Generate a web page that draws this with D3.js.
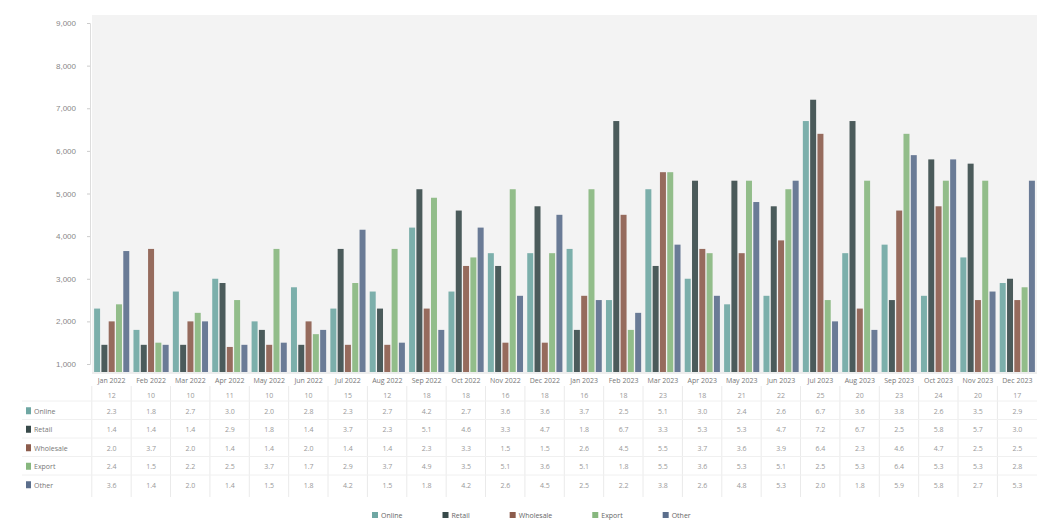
<!DOCTYPE html>
<html><head><meta charset="utf-8">
<script src="https://cdn.jsdelivr.net/npm/d3@7"></script>
<style>
html,body{margin:0;padding:0;background:#fff;}
svg{display:block;font-family:"Open Sans","Liberation Sans",sans-serif;}
</style></head>
<body>
<svg id="c" width="1043" height="523"></svg>
<script>
const categories = ["Jan 2022","Feb 2022","Mar 2022","Apr 2022","May 2022","Jun 2022","Jul 2022","Aug 2022","Sep 2022","Oct 2022","Nov 2022","Dec 2022",
  "Jan 2023","Feb 2023","Mar 2023","Apr 2023","May 2023","Jun 2023","Jul 2023","Aug 2023","Sep 2023","Oct 2023","Nov 2023","Dec 2023"];
const seriesNames = ["Online","Retail","Wholesale","Export","Other"];
const seriesColors = ["#6fa7a3","#384a4a","#8c5c4c","#87b77e","#5b6e8c"];
const onlineValues    = [2300,1800,2700,3000,2000,2800,2300,2700,4200,2700,3600,3600,3700,2500,5100,3000,2400,2600,6700,3600,3800,2600,3500,2900];
const retailValues    = [1450,1450,1450,2900,1800,1450,3700,2300,5100,4600,3300,4700,1800,6700,3300,5300,5300,4700,7200,6700,2500,5800,5700,3000];
const wholesaleValues = [2000,3700,2000,1400,1450,2000,1450,1450,2300,3300,1500,1500,2600,4500,5500,3700,3600,3900,6400,2300,4600,4700,2500,2500];
const exportValues    = [2400,1500,2200,2500,3700,1700,2900,3700,4900,3500,5100,3600,5100,1800,5500,3600,5300,5100,2500,5300,6400,5300,5300,2800];
const otherValues     = [3650,1450,2000,1450,1500,1800,4150,1500,1800,4200,2600,4500,2500,2200,3800,2600,4800,5300,2000,1800,5900,5800,2700,5300];
const yTicks = [1000,2000,3000,4000,5000,6000,7000,8000,9000];

const seriesValues = [onlineValues, retailValues, wholesaleValues, exportValues, otherValues];

const svg = d3.select("#c");
const L = 92, R = 1037, T = 15, B = 372;
const x0 = d3.scaleBand().domain(categories).range([L, R]).paddingInner(0.04).paddingOuter(0.02);
const x1 = d3.scaleBand().domain(seriesNames).range([0, x0.bandwidth()]).padding(0.18);
const y = d3.scaleLinear().domain([1000, 9000]).range([364, 23]);
const color = d3.scaleOrdinal().domain(seriesNames).range(seriesColors);

// plot background
svg.append("rect").attr("x", L).attr("y", T).attr("width", R - L).attr("height", B - T).attr("fill", "#f3f3f3");

// y axis
const yAxis = d3.axisLeft(y).tickValues(yTicks).tickFormat(d3.format(",")).tickSize(3);
const ga = svg.append("g").attr("transform", `translate(${L - 2},0)`).call(yAxis);
ga.select(".domain").attr("stroke", "#ddd");
ga.selectAll(".tick line").attr("stroke", "#ccc");
ga.selectAll("text").attr("fill", "#888").attr("font-size", 8).attr("x", -14);

// bars
const groups = svg.append("g").selectAll("g").data(categories).join("g")
  .attr("transform", d => `translate(${x0(d)},0)`);
groups.selectAll("rect").data((d, i) => seriesNames.map((s, k) => ({s, v: seriesValues[k][i]})))
  .join("rect")
  .attr("x", d => x1(d.s)).attr("width", x1.bandwidth())
  .attr("y", d => y(d.v)).attr("height", d => B - y(d.v))
  .attr("fill", d => color(d.s)).attr("opacity", 0.9);

// x axis line
svg.append("line").attr("x1", L).attr("x2", R).attr("y1", B + 1).attr("y2", B + 1).attr("stroke", "#ddd");

// data table
const rowH = 18.5, tableTop = 374;
const tbl = svg.append("g");
// header category labels
tbl.selectAll("text.cat").data(categories).join("text").attr("class", "cat")
  .attr("x", d => x0(d) + x0.bandwidth() / 2).attr("y", tableTop + 9)
  .attr("text-anchor", "middle").attr("font-size", 7).attr("fill", "#777").text(d => d);
// totals row
tbl.selectAll("text.tot").data(categories).join("text").attr("class", "tot")
  .attr("x", d => x0(d) + x0.bandwidth() / 2).attr("y", tableTop + 24)
  .attr("text-anchor", "middle").attr("font-size", 7).attr("fill", "#999")
  .text((d, i) => d3.format(".0f")(d3.sum(seriesValues, s => s[i]) / 1000));
// column separators
tbl.selectAll("line.col").data(categories).join("line").attr("class", "col")
  .attr("x1", d => x0(d) - 1).attr("x2", d => x0(d) - 1)
  .attr("y1", tableTop + 12).attr("y2", tableTop + 12 + rowH * 6)
  .attr("stroke", "#eaeaea");
// row lines
const rowYs = seriesNames.map((s, k) => tableTop + 28 + k * rowH);
tbl.selectAll("line.row").data(rowYs).join("line").attr("class", "row")
  .attr("x1", 22).attr("x2", R).attr("y1", d => d - 1).attr("y2", d => d - 1).attr("stroke", "#f0f0f0");
// row labels
seriesNames.forEach((s, k) => {
  const ry = rowYs[k] + rowH / 2;
  tbl.append("rect").attr("x", 26).attr("y", ry - 4).attr("width", 5).attr("height", 7).attr("fill", color(s));
  tbl.append("text").attr("x", 34).attr("y", ry + 2.5).attr("font-size", 7).attr("fill", "#777").text(s);
  tbl.selectAll(null).data(categories).join("text")
    .attr("x", d => x0(d) + x0.bandwidth() / 2).attr("y", ry + 2.5)
    .attr("text-anchor", "middle").attr("font-size", 7).attr("fill", "#999")
    .text((d, i) => d3.format(".1f")(seriesValues[k][i] / 1000));
});

// legend
const leg = svg.append("g");
let lx = 372;
seriesNames.forEach((s, k) => {
  const g = leg.append("g").attr("transform", `translate(${lx},517)`);
  g.append("rect").attr("x", 0).attr("y", -5).attr("width", 6).attr("height", 6).attr("fill", color(s));
  const t = g.append("text").attr("x", 9).attr("y", 1).attr("font-size", 7).attr("fill", "#666").text(s);
  lx += 9 + t.node().getComputedTextLength() + 40;
});
</script>
</body></html>
